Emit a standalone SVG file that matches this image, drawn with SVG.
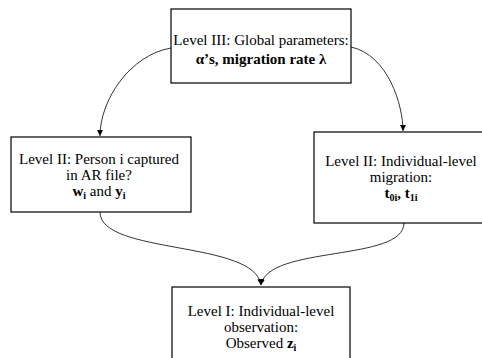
<svg xmlns="http://www.w3.org/2000/svg" width="482" height="358" viewBox="0 0 482 358">
<style>
.box{fill:#fff;stroke:#000;stroke-width:1.2}
.t{font-family:"Liberation Serif","Times New Roman",serif;font-size:15px;fill:#000;text-anchor:middle}
.b{font-weight:bold}
.s{font-size:10px}
.c{fill:none;stroke:#000;stroke-width:0.8}
</style>
<defs>
<marker id="ah" markerWidth="8" markerHeight="8" refX="6" refY="3" orient="auto" markerUnits="userSpaceOnUse">
<path d="M0,0 L6,3 L0,6 z" fill="#000"/>
</marker>
</defs>
<rect width="482" height="358" fill="#fff"/>
<g id="connectors">
<path class="c" d="M171,48 C130,55 100,100 100,136" marker-end="url(#ah)"/>
<path class="c" d="M351,47 C388,55 403,105 403,131" marker-end="url(#ah)"/>
<path class="c" d="M100,212 C100,255 255,240 261,285" marker-end="url(#ah)"/>
<path class="c" d="M404,223 C404,262 268,245 261,285" marker-end="url(#ah)"/>
</g>
<g id="level3">
<rect class="box" x="171" y="9" width="180" height="74"/>
<text class="t" x="261" y="45">Level III: Global parameters:</text>
<text class="t b" x="261" y="64" font-size="16">α’s, migration rate λ</text>
</g>
<g id="level2a">
<rect class="box" x="11" y="137" width="180" height="75"/>
<text class="t" x="99" y="164">Level II: Person i captured</text>
<text class="t" x="99" y="180">in AR file?</text>
<text class="t" x="99" y="196"><tspan class="b">w<tspan class="s" dy="3">i</tspan></tspan><tspan dy="-3"> and </tspan><tspan class="b">y<tspan class="s" dy="3">i</tspan></tspan></text>
</g>
<g id="level2b">
<rect class="box" x="314" y="132" width="176" height="91"/>
<text class="t" x="401" y="166">Level II: Individual-level</text>
<text class="t" x="401" y="182">migration:</text>
<text class="t b" x="401" y="198">t<tspan class="s" dy="3">0i</tspan><tspan dy="-3">, t</tspan><tspan class="s" dy="3">1i</tspan></text>
</g>
<g id="level1">
<rect class="box" x="172" y="287" width="178" height="76"/>
<text class="t" x="261" y="316">Level I: Individual-level</text>
<text class="t" x="261" y="332">observation:</text>
<text class="t" x="261" y="348">Observed <tspan class="b">z<tspan class="s" dy="3">i</tspan></tspan></text>
</g>
</svg>
